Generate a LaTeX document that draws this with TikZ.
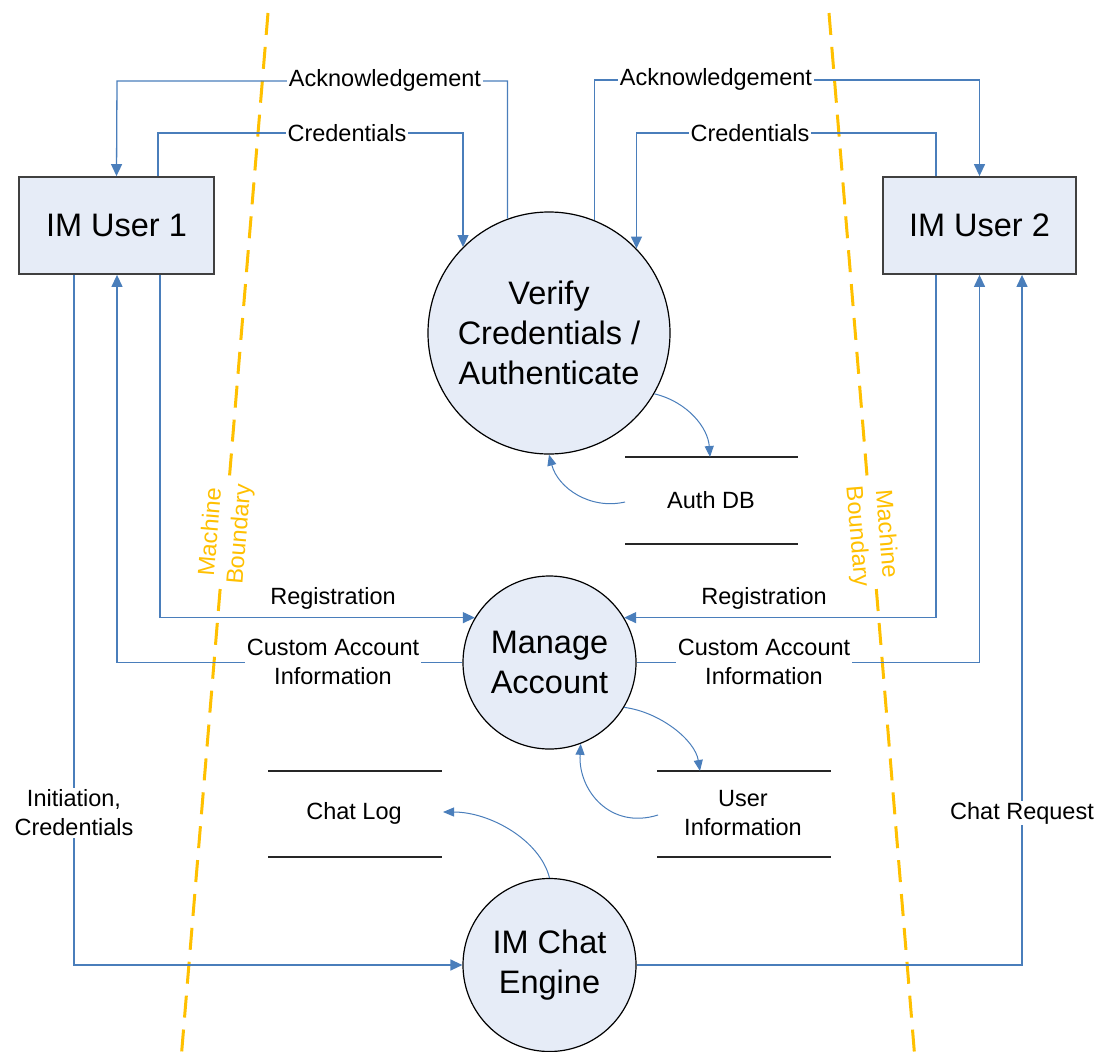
\documentclass[tikz,border=0pt]{standalone}
\usepackage{fontspec}
\setmainfont{Liberation Sans}
\usetikzlibrary{arrows.meta}
\definecolor{flowblue}{HTML}{4A7EBB}
\definecolor{nodefill}{HTML}{E6ECF7}
\definecolor{bndyellow}{HTML}{FFC000}
\newcommand{\dfdbig}{\fontsize{32.5}{40}\selectfont}
\newcommand{\dfdsmall}{\fontsize{23.5}{29}\selectfont}
\begin{document}
\begin{tikzpicture}[x=1pt,y=-1pt,
  entity/.style={draw=black!75, line width=1.8pt, fill=nodefill, minimum width=195pt, minimum height=97pt, inner sep=0pt, font=\dfdbig},
  process/.style={circle, draw=black, line width=1.2pt, fill=nodefill, inner sep=0pt, align=center, font=\dfdbig},
  flow/.style={draw=flowblue, line width=1.3pt, -{Triangle[length=12pt,width=11pt]}},
  curvedflow/.style={draw=flowblue, line width=1pt, -{Triangle[length=11pt,width=9pt]}},
  storeline/.style={draw=black!85, line width=1.3pt},
  lbl/.style={fill=white, inner sep=1.5pt, font=\dfdsmall, align=center},
  storetxt/.style={inner sep=0pt, font=\dfdsmall, align=center},
  boundary/.style={draw=bndyellow, line width=3pt, dash pattern=on 22pt off 12pt},
  bndlabel/.style={fill=white, inner sep=2pt, text=bndyellow, font=\dfdsmall, align=center}]
\useasboundingbox (0,0) rectangle (1103,1052);

% machine boundaries
\coordinate (bl1) at (268,13);
\coordinate (bl2) at (181,1060);
\coordinate (br1) at (829,13);
\coordinate (br2) at (915,1060);
\draw[boundary] (bl1) -- (bl2);
\draw[boundary] (br1) -- (br2);
\node[bndlabel, rotate=85.3] (mbl) at (226,533) {Machine\\Boundary};
\node[bndlabel, rotate=-85.3] (mbr) at (871,535) {Machine\\Boundary};

% external entities
\node[entity, minimum width=195pt] (user1) at (116.5,225.5) {IM User 1};
\node[entity, minimum width=193pt] (user2) at (979.5,225.5) {IM User 2};

% processes
\node[process, minimum size=242pt] (verify) at (549,333) {Verify\\Credentials /\\Authenticate};
\node[process, minimum size=173pt] (manage) at (549.5,662.5) {Manage\\Account};
\node[process, minimum size=173pt] (chat) at (549.5,965) {IM Chat\\Engine};

% data stores
\draw[storeline] (625,457) -- (798,457);
\draw[storeline] (625,544) -- (798,544);
\node[storetxt] (authdb) at (711,500) {Auth DB};
\draw[storeline] (268,771) -- (442,771);
\draw[storeline] (268,857) -- (442,857);
\node[storetxt] (chatlog) at (354,813) {Chat Log};
\draw[storeline] (657,771) -- (831,771);
\draw[storeline] (657,857) -- (831,857);
\node[storetxt] (userinfo) at (743,813) {User\\Information};
\coordinate (authT) at (710,457);
\coordinate (authL) at (625,502);
\coordinate (uinfoT) at (700,771);
\coordinate (uinfoL) at (658,815);
\coordinate (clogR) at (443,812);

% top flows
\draw[flow] (verify.110.3) |- (117,81) -- (user1.north);
\draw[flow] ([xshift=41.5pt]user1.north) |- (300,133) -| (verify.135.3);
\draw[flow] (verify.68.7) |- (900,80) -| (user2.north);
\draw[flow] ([xshift=-43.5pt]user2.north) |- (700,133) -| (verify.44.7);
\node[lbl] (ackL) at (385,80) {Acknowledgement};
\node[lbl] (credL) at (347,133) {Credentials};
\node[lbl] (ackR) at (716,79) {Acknowledgement};
\node[lbl] (credR) at (750,133) {Credentials};

% left side flows
\draw[flow] ([xshift=-42.5pt]user1.south) |- (chat.west);
\draw[flow] (manage.west) -| ([xshift=0.5pt]user1.south);
\draw[flow] ([xshift=43.5pt]user1.south) |- (manage.149);
\node[lbl] (regL) at (333,598) [fill=none] {Registration};
\node[lbl] (custL) at (333,662) {Custom Account\\Information};
\node[lbl] (initL) at (74,813) {Initiation,\\Credentials};

% right side flows
\draw[flow] ([xshift=-43.5pt]user2.south) |- (manage.31);
\draw[flow] (manage.east) -| (user2.south);
\draw[flow] (chat.east) -| ([xshift=42.5pt]user2.south);
\node[lbl] (regR) at (764,598) [fill=none] {Registration};
\node[lbl] (custR) at (764,662) {Custom Account\\Information};
\node[lbl] (chatreq) at (1022,813) {Chat Request};

% store flows
\draw[curvedflow] (verify.-30) .. controls (688,402) and (708,428) .. (authT);
\draw[curvedflow] (authL) .. controls (590,510) and (558,488) .. (verify.south);
\draw[curvedflow] (manage.-31) .. controls (660,712) and (695,740) .. (uinfoT);
\draw[curvedflow] (uinfoL) .. controls (610,830) and (578,790) .. (manage.-69);
\draw[curvedflow] (chat.north) .. controls (540,840) and (490,812) .. (clogR);
\end{tikzpicture}
\end{document}
